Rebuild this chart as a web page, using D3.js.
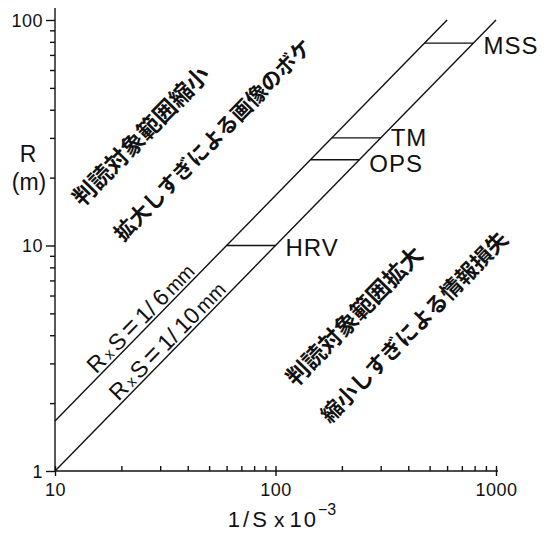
<!DOCTYPE html>
<html>
<head>
<meta charset="utf-8">
<script src="https://cdn.jsdelivr.net/npm/d3@7"></script>
<style>
body { margin: 0; background: #fff; }
text { font-family: "Liberation Sans", Arial, sans-serif; fill: #111; }
.jp { font-family: "Noto Sans CJK JP", sans-serif; font-weight: 700; }
.axis path, .axis line { stroke: #111; stroke-width: 1.4; }
</style>
</head>
<body>
<svg id="chart" width="558" height="534"></svg>
<script>
"use strict";

/* global d3 */

// axis ranges and ticks
var xDomain = [10, 1000];
var yDomain = [1, 100];
var xMajor = [10, 100, 1000];
var yMajor = [1, 10, 100];

// R x S = 1/k mm  ->  R(m) = (1/S x 10^-3) / k
var lineNames = ["R x S = 1/ 6 mm", "R x S = 1/ 10 mm"];
var lineDiv = [6, 10];

// sensors and their ground resolution R (m)
var sensors = ["MSS", "TM", "OPS", "HRV"];
var sensorR = [79, 30, 24, 10];

// region notes
var notesUpper = ["判読対象範囲縮小", "拡大しすぎによる画像のボケ"];
var notesLower = ["判読対象範囲拡大", "縮小しすぎによる情報損失"];

var svg = d3.select("#chart");

var x = d3.scaleLog().domain(xDomain).range([55, 496]);
var y = d3.scaleLog().domain(yDomain).range([471, 20]);

// slope of the diagonal lines in screen units
var ang = -Math.atan2(y(1) - y(10), x(100) - x(10)) * 180 / Math.PI;

var xMinor = x.ticks().filter(function(d) { return xMajor.indexOf(d) < 0; });
var yMinor = y.ticks().filter(function(d) { return yMajor.indexOf(d) < 0; });

// y axis
var gy = svg.append("g").attr("class", "axis").attr("transform", "translate(55,0)");
gy.append("g").call(d3.axisLeft(y).tickValues(yMinor).tickSize(5).tickSizeOuter(0).tickFormat(""));
gy.append("g").call(d3.axisLeft(y).tickValues(yMajor).tickSize(9).tickSizeOuter(0).tickPadding(3)
	.tickFormat(d3.format("d")));
gy.selectAll("path").remove();
gy.append("line").attr("x1", 0).attr("x2", 0).attr("y1", y(1)).attr("y2", 8);
gy.selectAll("text").style("font-size", "18px").style("letter-spacing", "0.5px").attr("dy", "0.36em");

// x axis
var gx = svg.append("g").attr("class", "axis").attr("transform", "translate(0," + y(1) + ")");
gx.append("g").call(d3.axisBottom(x).tickValues(xMinor).tickSize(-5).tickSizeOuter(0).tickFormat(""));
gx.append("g").call(d3.axisBottom(x).tickValues(xMajor).tickSize(5).tickSizeOuter(0).tickPadding(7)
	.tickFormat(d3.format("d")));
gx.selectAll("path").remove();
gx.append("line").attr("x1", x(10)).attr("x2", 498).attr("y1", 0).attr("y2", 0);
gx.selectAll(".tick line").filter(function(d) { return xMajor.indexOf(d) >= 0; }).attr("y1", -5);
gx.selectAll("text").style("font-size", "18px").style("letter-spacing", "0.5px");

// axis titles
var xt = svg.append("text").attr("x", 282).attr("y", 527).attr("text-anchor", "middle");
xt.append("tspan").style("font-size", "22px").style("letter-spacing", "3px").text("1/S");
xt.append("tspan").style("font-size", "21px").attr("dx", 4).text("x");
xt.append("tspan").style("font-size", "22px").style("letter-spacing", "2px").attr("dx", 5).text("10");
xt.append("tspan").style("font-size", "16px").attr("dy", -12).text("−3");

svg.append("text").attr("x", 28).attr("y", 162).attr("text-anchor", "middle")
	.style("font-size", "23px").text("R");
svg.append("text").attr("x", 29).attr("y", 190).attr("text-anchor", "middle")
	.style("font-size", "23px").text("(m)");

// diagonal lines R = x / k, clipped to R <= 100
svg.selectAll(".diag").data(lineDiv).enter().append("line")
	.attr("class", "diag")
	.attr("x1", x(10)).attr("y1", function(k) { return y(10 / k); })
	.attr("x2", function(k) { return x(100 * k); }).attr("y2", y(100))
	.attr("stroke", "#111").attr("stroke-width", 1.4);

// line labels
var labX = [26.5, 35];
lineNames.forEach(function(name, i) {
	var px = x(labX[i]), py = y(labX[i] / lineDiv[i]);
	var t = svg.append("text").attr("text-anchor", "middle")
		.attr("transform", "translate(" + px + "," + py + ") rotate(" + ang + ")")
		.attr("dy", -3).style("font-size", "23px");
	var parts = name.split(" ");
	t.append("tspan").text(parts[0]);
	t.append("tspan").attr("dx", 3).style("font-size", "15px").text(parts[1]);
	t.append("tspan").attr("dx", 3).text(parts[2]);
	t.append("tspan").attr("dx", 4).style("font-size", "27px").text(parts[3]);
	t.append("tspan").attr("dx", 4).text(parts[4]);
	t.append("tspan").attr("dx", 5).text(parts[5]);
	t.append("tspan").attr("dx", 3).style("font-size", "20px").text(parts[6]);
});

// sensor segments between the two lines
var labDy = { MSS: 11, TM: 8, OPS: 12, HRV: 10 };
sensors.forEach(function(s, i) {
	var r = sensorR[i];
	svg.append("line")
		.attr("x1", x(r * lineDiv[0])).attr("x2", x(r * lineDiv[1]))
		.attr("y1", y(r)).attr("y2", y(r))
		.attr("stroke", "#111").attr("stroke-width", 1.4);
	svg.append("text").attr("x", x(r * lineDiv[1]) + 10).attr("y", y(r) + labDy[s])
		.style("font-size", "24px").style("letter-spacing", "1px").text(s);
});

// region notes (centre of each text in data units)
var upperPos = [[24.5, 30.6], [51.9, 29.4]];
var lowerPos = [[227.7, 4.87], [425.6, 4.35]];
var upperSize = [23, 21];
var lowerSize = [23, 21.5];
function note(txt, pos, size) {
	svg.append("text").attr("class", "jp").attr("text-anchor", "middle")
		.attr("transform", "translate(" + x(pos[0]) + "," + y(pos[1]) + ") rotate(" + ang + ")")
		.attr("dy", "0.36em").style("font-size", size + "px").text(txt);
}
notesUpper.forEach(function(t, i) { note(t, upperPos[i], upperSize[i]); });
notesLower.forEach(function(t, i) { note(t, lowerPos[i], lowerSize[i]); });
</script>
</body>
</html>
